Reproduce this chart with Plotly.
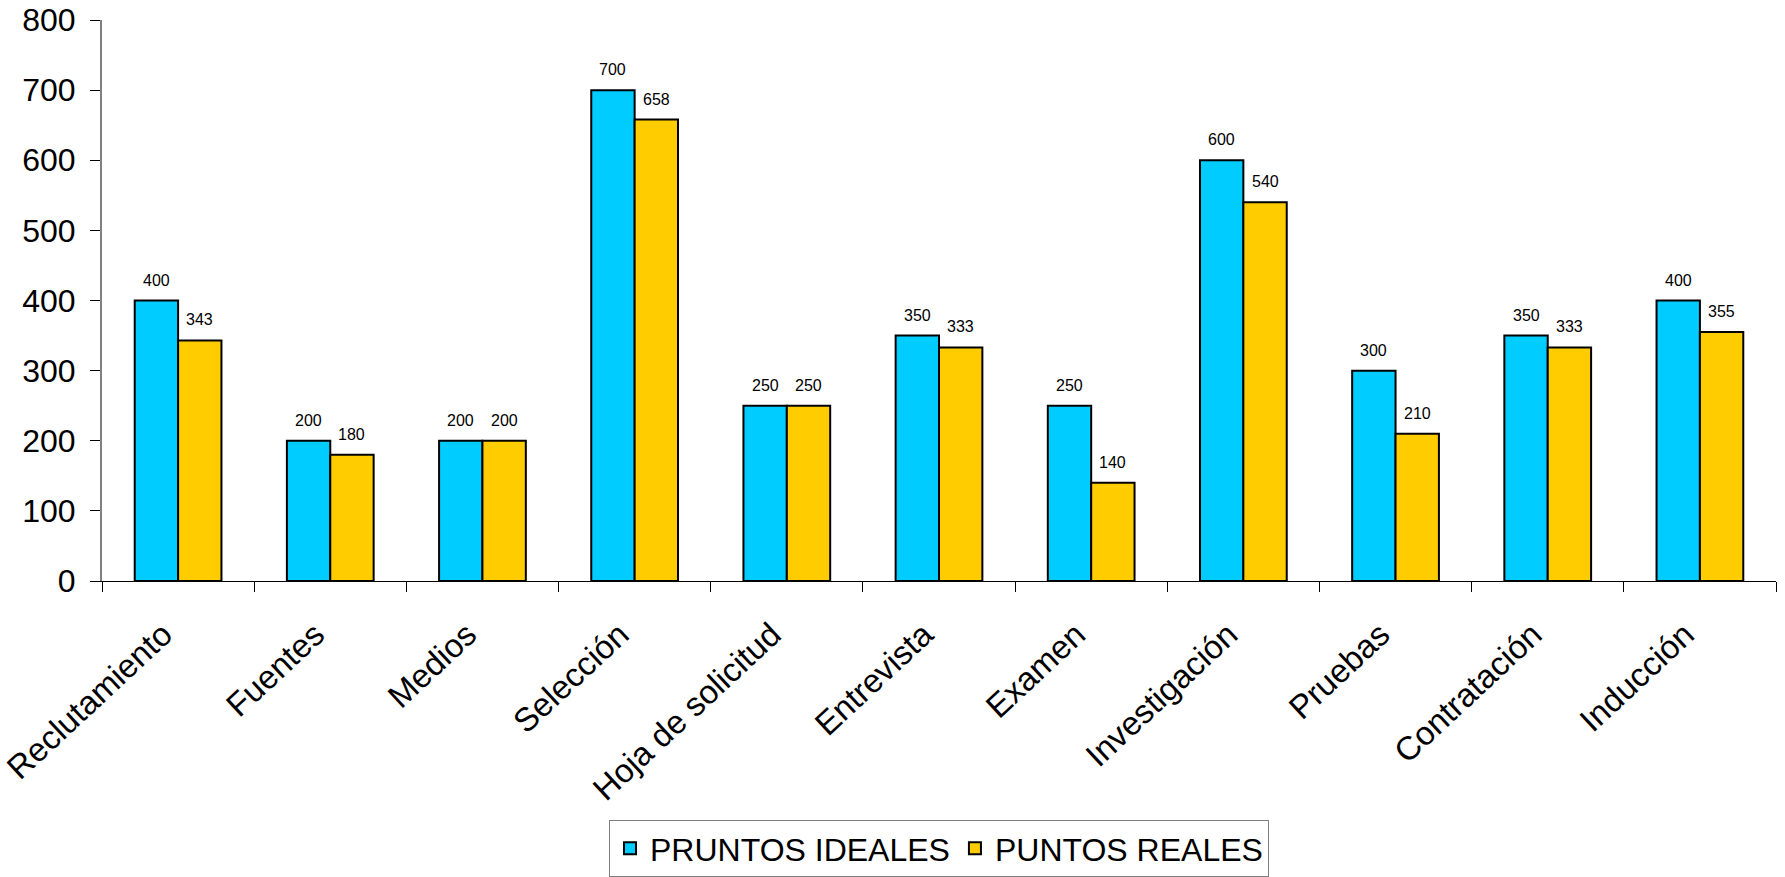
import plotly.graph_objects as go

# Etapas del proceso de empleo
categorias = ["Reclutamiento", "Fuentes", "Medios", "Selección", "Hoja de solicitud",
              "Entrevista", "Examen", "Investigación", "Pruebas", "Contratación", "Inducción"]
puntos_ideales = [400, 200, 200, 700, 250, 350, 250, 600, 300, 350, 400]
puntos_reales = [343, 180, 200, 658, 250, 333, 140, 540, 210, 333, 355]

y_ticks = [0, 100, 200, 300, 400, 500, 600, 700, 800]

FONT = "Arial, Liberation Sans, sans-serif"
AZUL = "#00CCFF"
AMARILLO = "#FFCC00"
BARGAP = 0.43

fig = go.Figure()
fig.add_trace(go.Bar(
    name="PRUNTOS IDEALES", x=categorias, y=puntos_ideales,
    marker=dict(color=AZUL, line=dict(color="black", width=2)),
))
fig.add_trace(go.Bar(
    name="PUNTOS REALES", x=categorias, y=puntos_reales,
    marker=dict(color=AMARILLO, line=dict(color="black", width=2)),
))

# Etiquetas de valor sobre cada barra
half = (1 - BARGAP) / 4
annotations = []
for i, (a, b) in enumerate(zip(puntos_ideales, puntos_reales)):
    for off, v in ((-half, a), (half, b)):
        annotations.append(dict(
            x=i + off, y=v, xref="x", yref="y", text=str(v), showarrow=False,
            yanchor="bottom", yshift=10, font=dict(family=FONT, size=16, color="black"),
        ))

fig.update_layout(
    width=1785, height=877,
    margin=dict(l=102, r=9, t=20, b=296),
    paper_bgcolor="white", plot_bgcolor="white",
    barmode="group", bargap=BARGAP, bargroupgap=0,
    font=dict(family=FONT, color="black"),
    annotations=annotations,
    showlegend=True,
    legend=dict(
        orientation="h", x=0.5, xanchor="center",
        yref="container", y=0.0, yanchor="bottom",
        font=dict(family=FONT, size=32, color="black"),
        bordercolor="#808080", borderwidth=1, bgcolor="white",
        itemwidth=30, traceorder="normal",
    ),
)

fig.update_xaxes(
    type="category", tickangle=-43, tickson="boundaries",
    ticks="outside", ticklen=10, tickcolor="black",
    showline=True, linecolor="black", linewidth=1,
    showgrid=False, automargin=False,
    ticklabelstandoff=20, ticklabelshift=-15,
    tickfont=dict(family=FONT, size=33, color="black"),
)
fig.update_yaxes(
    range=[0, 800], tickvals=y_ticks, ticktext=[str(t) for t in y_ticks],
    ticks="outside", ticklen=10, tickcolor="black",
    showline=True, linecolor="#808080", linewidth=2,
    showgrid=False, zeroline=False, ticklabelstandoff=8, automargin=False,
    tickfont=dict(family=FONT, size=32, color="black"),
)

fig.write_html("out.html")
